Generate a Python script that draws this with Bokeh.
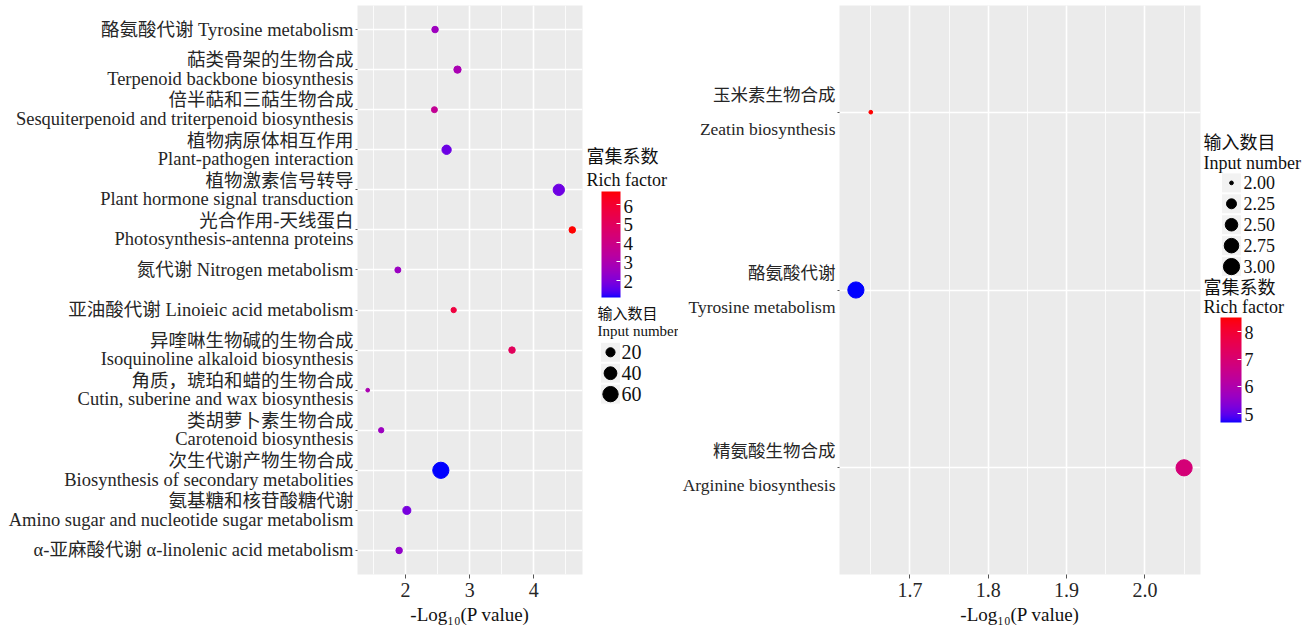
import math
from bokeh.plotting import figure
from bokeh.models import (Range1d, FixedTicker, SingleIntervalTicker, NumeralTickFormatter,
                          LinearColorMapper, ColorBar, ColumnDataSource)
from bokeh.layouts import row
from bokeh.core.properties import value
from bokeh.embed import file_html
from bokeh.resources import INLINE

FONT = "Liberation Serif, Noto Sans CJK SC"
LATIN = "Liberation Serif"

# ---------------- data: left panel (top to bottom) ----------------
LEFT_PATHWAYS = [
    "酪氨酸代谢 Tyrosine metabolism",
    "萜类骨架的生物合成\nTerpenoid backbone biosynthesis",
    "倍半萜和三萜生物合成\nSesquiterpenoid and triterpenoid biosynthesis",
    "植物病原体相互作用\nPlant-pathogen interaction",
    "植物激素信号转导\nPlant hormone signal transduction",
    "光合作用-天线蛋白\nPhotosynthesis-antenna proteins",
    "氮代谢 Nitrogen metabolism",
    "亚油酸代谢 Linoieic acid metabolism",
    "异喹啉生物碱的生物合成\nIsoquinoline alkaloid biosynthesis",
    "角质，琥珀和蜡的生物合成\nCutin, suberine and wax biosynthesis",
    "类胡萝卜素生物合成\nCarotenoid biosynthesis",
    "次生代谢产物生物合成\nBiosynthesis of secondary metabolities",
    "氨基糖和核苷酸糖代谢\nAmino sugar and nucleotide sugar metabolism",
    "α-亚麻酸代谢 α-linolenic acid metabolism",
]
LEFT_NEGLOG10P = [2.46, 2.81, 2.45, 2.64, 4.39, 4.60, 1.88, 2.75, 3.66, 1.41, 1.62, 2.55, 2.02, 1.90]
LEFT_RICH = [2.60, 2.89, 3.62, 1.72, 1.75, 6.70, 2.50, 5.69, 5.00, 2.90, 2.56, 1.10, 1.88, 2.33]
LEFT_INPUT = [12, 14, 11, 21, 31, 12, 11, 10, 12, 9, 10, 68, 16, 12]
LEFT_SIZE_BREAKS = [20, 40, 60]

# ---------------- data: right panel (top to bottom) ----------------
RIGHT_PATHWAYS = [
    "玉米素生物合成\n\nZeatin biosynthesis",
    "酪氨酸代谢\n\nTyrosine metabolism",
    "精氨酸生物合成\n\nArginine biosynthesis",
]
RIGHT_NEGLOG10P = [1.65, 1.631, 2.05]
RIGHT_RICH = [8.53, 4.67, 6.90]
RIGHT_INPUT = [2, 3, 3]
RIGHT_SIZE_BREAKS = [2.00, 2.25, 2.50, 2.75, 3.00]

X_TITLE = "-Log₁₀(P value)"
SIZE_TITLE = ["输入数目", "Input number"]
COLOR_TITLE = ["富集系数", "Rich factor"]

H = 627
TOP = 5        # frame top (canvas px)
BOTTOM = 576   # frame bottom (canvas px)


# ---------------- blue -> red gradient interpolated in Lab (ggplot style) ----------------
def _lin(c):
    c = c / 255.0
    return c / 12.92 if c <= 0.04045 else ((c + 0.055) / 1.055) ** 2.4


def _gam(c):
    c = max(0.0, min(1.0, c))
    return 12.92 * c if c <= 0.0031308 else 1.055 * c ** (1 / 2.4) - 0.055


def rgb2lab(r, g, b):
    R, G, B = _lin(r), _lin(g), _lin(b)
    X = 0.4124 * R + 0.3576 * G + 0.1805 * B
    Y = 0.2126 * R + 0.7152 * G + 0.0722 * B
    Z = 0.0193 * R + 0.1192 * G + 0.9505 * B
    def f(t):
        return t ** (1 / 3) if t > 0.008856 else 7.787 * t + 16 / 116
    fx, fy, fz = f(X / 0.95047), f(Y / 1.0), f(Z / 1.08883)
    return 116 * fy - 16, 500 * (fx - fy), 200 * (fy - fz)


def lab2hex(L, a, b):
    fy = (L + 16) / 116
    fx = fy + a / 500
    fz = fy - b / 200
    def finv(t):
        return t ** 3 if t ** 3 > 0.008856 else (t - 16 / 116) / 7.787
    X, Y, Z = 0.95047 * finv(fx), finv(fy), 1.08883 * finv(fz)
    R = 3.2406 * X - 1.5372 * Y - 0.4986 * Z
    G = -0.9689 * X + 1.8758 * Y + 0.0415 * Z
    B = 0.0557 * X - 0.2040 * Y + 1.0570 * Z
    return "#%02x%02x%02x" % tuple(int(round(_gam(c) * 255)) for c in (R, G, B))


LOW, HIGH = rgb2lab(0, 0, 255), rgb2lab(255, 0, 0)
PALETTE = [lab2hex(*[LOW[k] + (HIGH[k] - LOW[k]) * i / 255 for k in range(3)]) for i in range(256)]


def size_px(v, vmin, vmax):
    r = (v - vmin) / (vmax - vmin) if vmax > vmin else 1.0
    return 1.2 + 2.5 * (1 + 5 * math.sqrt(max(0.0, r)))


def dot_plot(labels, xs, rich, n, width, border_left, interval, fmt,
             label_size, line_height):
    N = len(labels)
    ys = [N - i for i in range(N)]
    lo, hi = min(xs), max(xs)
    pad = 0.05 * (hi - lo)
    p = figure(width=width, height=H, x_range=Range1d(lo - pad, hi + pad),
               y_range=Range1d(0.4, N + 0.6), output_backend="svg", toolbar_location=None,
               min_border_left=border_left, min_border_right=2, min_border_top=TOP,
               min_border_bottom=H - BOTTOM)
    p.background_fill_color = "#EBEBEB"
    p.border_fill_color = "white"
    p.outline_line_color = None

    xt = SingleIntervalTicker(interval=interval, num_minor_ticks=2)
    p.xaxis.ticker = xt
    p.xgrid.ticker = xt
    p.xaxis.formatter = NumeralTickFormatter(format=fmt)
    yt = FixedTicker(ticks=ys)
    p.yaxis.ticker = yt
    p.ygrid.ticker = yt
    p.yaxis.major_label_overrides = {y: lab for y, lab in zip(ys, labels)}

    for g in (p.xgrid, p.ygrid):
        g.grid_line_color = "white"
        g.grid_line_width = 1.6
    p.xgrid.minor_grid_line_color = "white"
    p.xgrid.minor_grid_line_width = 0.8

    for ax in (p.xaxis, p.yaxis):
        ax.axis_line_color = None
        ax.major_tick_line_color = "#555555"
        ax.major_tick_in = 0
        ax.minor_tick_line_color = None
        ax.major_label_text_font = FONT
        ax.major_label_text_color = "#262626"
    p.yaxis.major_tick_out = 2
    p.yaxis.major_label_standoff = 2
    p.yaxis.major_label_text_font_size = label_size
    p.yaxis.major_label_text_line_height = line_height
    p.xaxis.major_tick_out = 4
    p.xaxis.major_label_standoff = 4
    p.xaxis.major_label_text_font = LATIN
    p.xaxis.major_label_text_font_size = "20px"
    p.xaxis.axis_label = X_TITLE
    p.xaxis.axis_label_text_font = LATIN
    p.xaxis.axis_label_text_font_style = "normal"
    p.xaxis.axis_label_text_font_size = "19px"
    p.xaxis.axis_label_text_color = "#111111"
    p.xaxis.axis_label_standoff = 4

    mapper = LinearColorMapper(palette=PALETTE, low=min(rich), high=max(rich))
    src = ColumnDataSource(dict(x=xs, y=ys, rf=rich, n=n,
                                sz=[size_px(v, min(n), max(n)) for v in n]))
    p.scatter("x", "y", size="sz", source=src,
              fill_color={"field": "rf", "transform": mapper},
              line_color={"field": "rf", "transform": mapper})
    return p, mapper


def legend_fig(width):
    # frame aligned with the neighbouring plots; data y == canvas y
    p = figure(width=width, height=H, x_range=Range1d(0, width), y_range=Range1d(BOTTOM, TOP),
               output_backend="svg", toolbar_location=None, min_border_left=0,
               min_border_right=0, min_border_top=TOP, min_border_bottom=H - BOTTOM,
               x_axis_location=None, y_axis_location=None)
    p.grid.visible = False
    p.axis.visible = False
    p.outline_line_color = None
    p.background_fill_color = "white"
    p.border_fill_color = "white"
    return p


def add_text(p, x, y, texts, size, font=FONT):
    p.text(x=[x] * len(texts), y=y, text=texts, text_font=value(font),
           text_font_size=value(size), text_baseline="middle", text_align="left",
           text_color="#111111")


def size_legend(p, breaks, n, x_key, y0, step, x_lab, lab_size, fmt):
    ys = [y0 + step * i for i in range(len(breaks))]
    p.rect(x=[x_key] * len(breaks), y=ys, width=20, height=20, width_units="screen",
           height_units="screen", fill_color="#F2F2F2", line_color="white")
    p.scatter(x=[x_key] * len(breaks), y=ys,
              size=[size_px(b, min(n), max(n)) for b in breaks], color="black")
    add_text(p, x_lab, ys, [fmt.format(b) for b in breaks], lab_size, LATIN)


def color_legend(p, mapper, x, top, w, h, lab_size):
    ticks = list(range(math.ceil(mapper.low), math.floor(mapper.high) + 1))
    cb = ColorBar(color_mapper=mapper, location=(x, BOTTOM - (top + h)), width=w, height=h,
                  ticker=FixedTicker(ticks=ticks),
                  padding=0, margin=0, bar_line_color=None, border_line_color=None,
                  background_fill_color=None, major_tick_line_color="white",
                  major_tick_in=4, major_tick_out=0, minor_tick_line_color=None,
                  label_standoff=3, major_label_text_color=None)
    p.add_layout(cb)
    # tick labels placed along the bar by the mapper's own low/high
    ys = [top + h - (t - mapper.low) / (mapper.high - mapper.low) * h for t in ticks]
    add_text(p, x + w + 3, ys, [str(t) for t in ticks], lab_size, LATIN)


# ---------------- left panel ----------------
left, left_mapper = dot_plot(LEFT_PATHWAYS, LEFT_NEGLOG10P, LEFT_RICH, LEFT_INPUT,
                             width=584, border_left=357, interval=1,
                             fmt="0", label_size="18.5px", line_height=0.92)

legL = legend_fig(94)
add_text(legL, 2, [157, 180], COLOR_TITLE, "18px")
color_legend(legL, left_mapper, 17, 193, 19, 106, "19px")
add_text(legL, 13, [315, 332], SIZE_TITLE, "15px")
size_legend(legL, LEFT_SIZE_BREAKS, LEFT_INPUT, 26, 353, 21, 37, "20px", "{:.0f}")

# ---------------- right panel ----------------
right, right_mapper = dot_plot(RIGHT_PATHWAYS, RIGHT_NEGLOG10P, RIGHT_RICH, RIGHT_INPUT,
                               width=524, border_left=161, interval=0.1,
                               fmt="0.0", label_size="17.5px", line_height=0.84)

legR = legend_fig(112)
add_text(legR, 1, [143, 163], SIZE_TITLE, "18px")
size_legend(legR, RIGHT_SIZE_BREAKS, RIGHT_INPUT, 29, 183, 21, 41, "18px", "{:.2f}")
add_text(legR, 1, [288, 308], COLOR_TITLE, "18px")
color_legend(legR, right_mapper, 18, 319, 21, 105, "18px")

layout = row(left, legL, right, legR)
open("out.html", "w").write(file_html(layout, INLINE))
